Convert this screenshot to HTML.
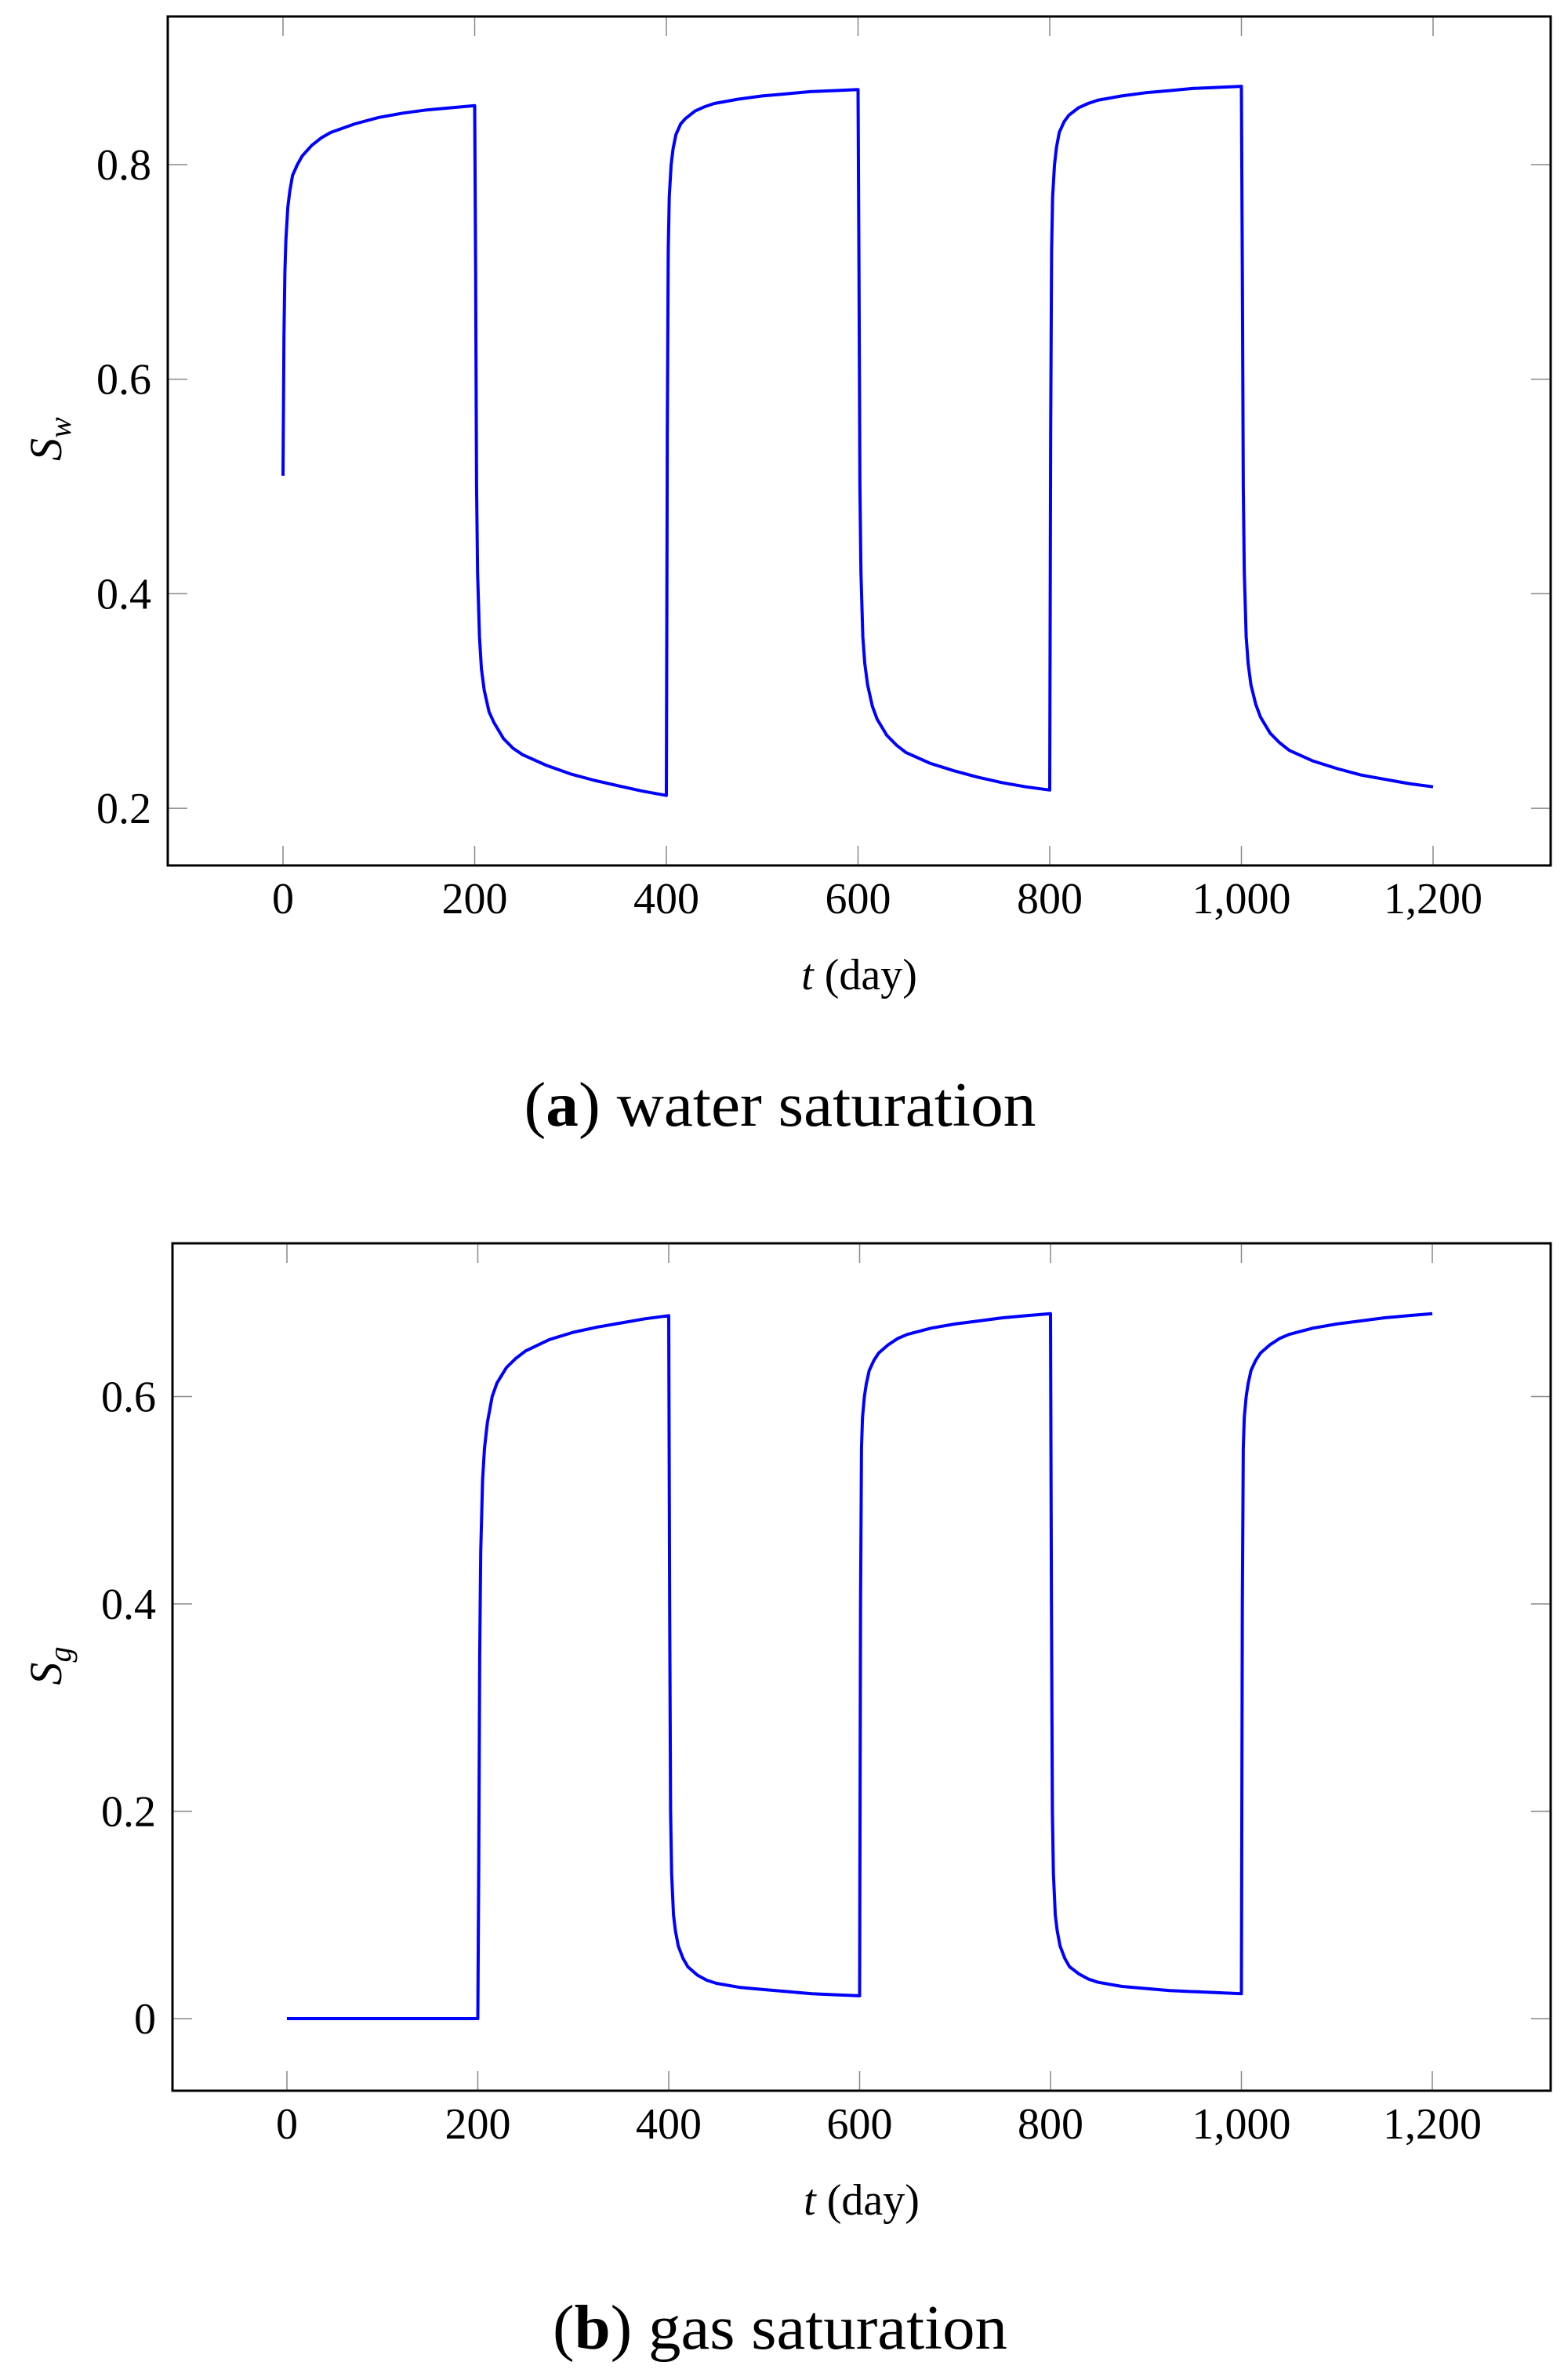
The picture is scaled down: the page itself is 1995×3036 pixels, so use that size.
<!DOCTYPE html>
<html><head><meta charset="utf-8"><style>
html,body{margin:0;padding:0;background:#fff;}
svg{display:block;}
text{font-family:"Liberation Serif",serif;fill:#000;}
</style></head><body>
<svg id="fig" width="1995" height="3036" viewBox="0 0 1995 3036" xmlns="http://www.w3.org/2000/svg"></svg>
<script>
const xTicks = [0,200,400,600,800,1000,1200];
const xTickLabels = ["0","200","400","600","800","1,000","1,200"];
const yTicksA = [0.2,0.4,0.6,0.8];
const yTickLabelsA = ["0.2","0.4","0.6","0.8"];
const yTicksB = [0,0.2,0.4,0.6];
const yTickLabelsB = ["0","0.2","0.4","0.6"];
const swTimes = [0,1,2,3,5,7,10,15,20,30,40,50,75,100,125,150,175,200,
 201,202,203,205,207,210,215,220,230,240,250,275,300,325,350,375,400,
 401,402,403,405,407,410,415,420,430,440,450,475,500,525,550,575,600,
 601,602,603,605,607,610,615,620,630,640,650,675,700,725,750,775,800,
 801,802,803,805,807,810,815,820,830,840,850,875,900,925,950,975,1000,
 1001,1002,1003,1005,1007,1010,1015,1020,1030,1040,1050,1075,1100,1125,1150,1175,1200];
const swValues = [0.51,0.64,0.70,0.73,0.76,0.775,0.79,0.80,0.808,0.818,0.825,0.83,0.838,0.844,0.848,0.851,0.853,0.855,
 0.70,0.50,0.42,0.36,0.33,0.31,0.29,0.28,0.265,0.256,0.25,0.24,0.232,0.226,0.221,0.216,0.212,
 0.55,0.72,0.77,0.80,0.815,0.828,0.838,0.843,0.85,0.854,0.857,0.861,0.864,0.866,0.868,0.869,0.87,
 0.70,0.50,0.42,0.36,0.335,0.315,0.295,0.283,0.268,0.259,0.252,0.242,0.235,0.229,0.224,0.22,0.217,
 0.55,0.72,0.77,0.80,0.816,0.83,0.84,0.846,0.853,0.857,0.86,0.864,0.867,0.869,0.871,0.872,0.873,
 0.70,0.50,0.42,0.36,0.335,0.315,0.297,0.285,0.27,0.261,0.254,0.244,0.237,0.231,0.227,0.223,0.22];
const sgTimes = [0,100,200,
 201,202,203,205,207,210,215,220,230,240,250,275,300,325,350,375,400,
 401,402,403,405,407,410,415,420,430,440,450,475,500,525,550,575,600,
 601,602,603,605,607,610,615,620,630,640,650,675,700,725,750,775,800,
 801,802,803,805,807,810,815,820,830,840,850,875,900,925,950,975,1000,
 1001,1002,1003,1005,1007,1010,1015,1020,1030,1040,1050,1075,1100,1125,1150,1175,1200];
const sgValues = [0,0,0,
 0.15,0.35,0.45,0.52,0.55,0.575,0.60,0.613,0.628,0.637,0.644,0.655,0.662,0.667,0.671,0.675,0.678,
 0.40,0.20,0.14,0.10,0.085,0.07,0.058,0.05,0.042,0.037,0.034,0.03,0.028,0.026,0.024,0.023,0.022,
 0.40,0.55,0.58,0.60,0.612,0.625,0.635,0.642,0.65,0.656,0.66,0.666,0.67,0.673,0.676,0.678,0.68,
 0.40,0.20,0.14,0.10,0.085,0.07,0.058,0.05,0.043,0.038,0.035,0.031,0.029,0.027,0.026,0.025,0.024,
 0.40,0.55,0.58,0.60,0.612,0.625,0.635,0.642,0.65,0.656,0.66,0.666,0.67,0.673,0.676,0.678,0.68];

const NS = "http://www.w3.org/2000/svg";
const svg = document.getElementById('fig');
function mk(tag, attrs, parent, txt){
  const e = document.createElementNS(NS, tag);
  for (const k in attrs) e.setAttribute(k, attrs[k]);
  if (txt !== undefined) e.textContent = txt;
  (parent||svg).appendChild(e);
  return e;
}
function chart(cfg){
  const g = mk('g', {});
  
  
  const X = t => cfg.x0 + t*cfg.sx;
  const Y = v => cfg.y0 - v*cfg.sy;
  xTicks.forEach((t,i)=>{
    const tk1 = mk('line',{x1:X(t),x2:X(t),y1:cfg.top,y2:cfg.top+25,stroke:'#888','stroke-width':1.5},g);
    
    
    const tk2 = mk('line',{x1:X(t),x2:X(t),y1:cfg.bottom,y2:cfg.bottom-25,stroke:'#888','stroke-width':1.5},g);
    
    
    const lb = mk('text',{x:X(t),y:cfg.bottom+61,'font-size':56,'text-anchor':'middle'},g,xTickLabels[i]);
    
    
  });
  cfg.yt.forEach((v,i)=>{
    const tk1 = mk('line',{x1:cfg.left,x2:cfg.left+25,y1:Y(v),y2:Y(v),stroke:'#888','stroke-width':1.5},g);
    
    
    const tk2 = mk('line',{x1:cfg.right,x2:cfg.right-25,y1:Y(v),y2:Y(v),stroke:'#888','stroke-width':1.5},g);
    
    
    const lb = mk('text',{x:cfg.lblx,y:Y(v)+19,'font-size':56,'text-anchor':'end'},g,cfg.ytl[i]);
    
    
  });
  let d = '';
  cfg.ts.forEach((t,i)=>{ d += (i?'L':'M') + X(t).toFixed(1) + ' ' + Y(cfg.vs[i]).toFixed(1) + ' '; });
  const p = mk('path',{d:d,fill:'none',stroke:'#0000ff','stroke-width':4,'stroke-linejoin':'round'},g);
  
  
  const fr = mk('rect',{x:cfg.left,y:cfg.top,width:cfg.right-cfg.left,height:cfg.bottom-cfg.top,fill:'none',stroke:'#000','stroke-width':3},g);
  
  
  const xl = mk('text',{x:(cfg.left+cfg.right)/2,y:cfg.xly,'font-size':56,'text-anchor':'middle'},g);
  
  
  mk('tspan',{'font-style':'italic'},xl,'t');
  mk('tspan',{},xl,' (day)');
  const yl = mk('text',{x:0,y:0,'font-size':58,'text-anchor':'middle',transform:'translate('+cfg.ylx+','+cfg.yly+') rotate(-90)'},g);
  
  
  mk('tspan',{'font-style':'italic'},yl,'S');
  mk('tspan',{'font-style':'italic','font-size':40,dy:12},yl,cfg.sub);
  const cp = mk('text',{x:cfg.capx,y:cfg.capy,'font-size':80,'text-anchor':'middle',textLength:cfg.capw,lengthAdjust:'spacingAndGlyphs'},g);
  
  
  mk('tspan',{},cp,'(');
  mk('tspan',{'font-weight':'bold'},cp,cfg.letter);
  mk('tspan',{},cp,') '+cfg.cap);
}
chart({name:'water-saturation-chart',series:'water-saturation-line',left:214,right:1978,top:21,bottom:1104,
  x0:361,sx:244.5/200,y0:210+0.8*1368.5,sy:1368.5,yt:yTicksA,ytl:yTickLabelsA,lblx:193,
  ts:swTimes,vs:swValues,xly:1262,ylx:78,yly:560,sub:'w',capx:995,capy:1436,capw:653,letter:'a',cap:'water saturation'});
chart({name:'gas-saturation-chart',series:'gas-saturation-line',left:220,right:1978,top:1586,bottom:2667,
  x0:366,sx:243.5/200,y0:2575,sy:1322.5,yt:yTicksB,ytl:yTickLabelsB,lblx:199,
  ts:sgTimes,vs:sgValues,xly:2825,ylx:78,yly:2125,sub:'g',capx:995,capy:2996,capw:580,letter:'b',cap:'gas saturation'});
</script>
</body></html>
